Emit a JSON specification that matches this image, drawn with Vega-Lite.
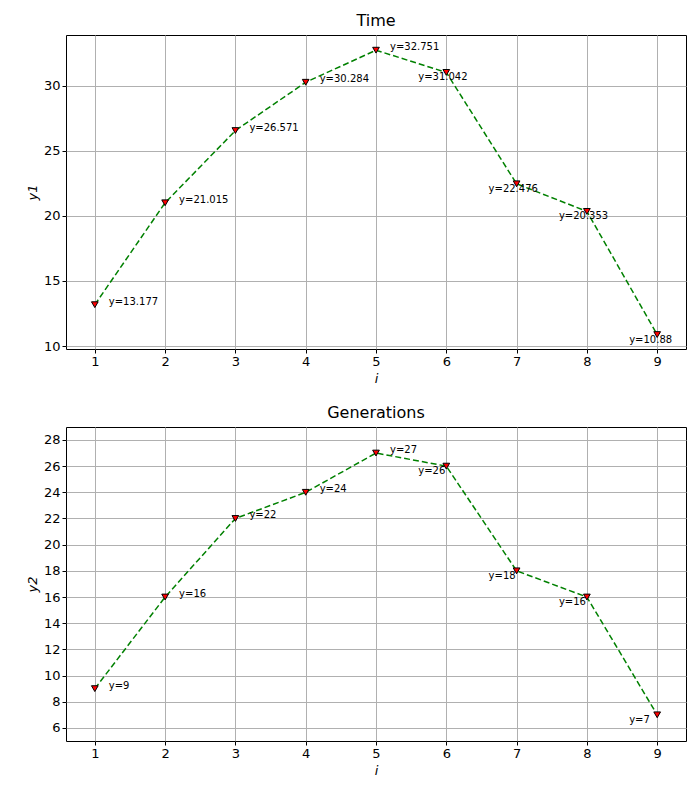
{
  "$schema": "https://vega.github.io/schema/vega-lite/v6.json",
  "padding": {"left": 25, "top": 12, "right": 0, "bottom": 5},
  "spacing": 18,
  "config": {
    "font": "DejaVu Sans",
    "view": {"stroke": "black", "strokeWidth": 1},
    "axis": {"grid": true, "gridColor": "#b0b0b0", "gridWidth": 1, "domain": false, "tickColor": "black", "labelColor": "black", "labelFontSize": 13, "labelFont": "DejaVu Sans", "titleFont": "DejaVu Sans", "titleFontSize": 13, "titleFontWeight": "normal", "titleFontStyle": "italic", "tickSize": 4},
    "title": {"font": "DejaVu Sans", "fontSize": 16, "fontWeight": "normal", "offset": 6}
  },
  "datasets": {
    "d1": [
      {"i": 1, "y": 13.177, "label": "y=13.177"},
      {"i": 2, "y": 21.015, "label": "y=21.015"},
      {"i": 3, "y": 26.571, "label": "y=26.571"},
      {"i": 4, "y": 30.284, "label": "y=30.284"},
      {"i": 5, "y": 32.751, "label": "y=32.751"},
      {"i": 6, "y": 31.042, "label": "y=31.042"},
      {"i": 7, "y": 22.476, "label": "y=22.476"},
      {"i": 8, "y": 20.353, "label": "y=20.353"},
      {"i": 9, "y": 10.88, "label": "y=10.88"}
    ],
    "d2": [
      {"i": 1, "y": 9, "label": "y=9"},
      {"i": 2, "y": 16, "label": "y=16"},
      {"i": 3, "y": 22, "label": "y=22"},
      {"i": 4, "y": 24, "label": "y=24"},
      {"i": 5, "y": 27, "label": "y=27"},
      {"i": 6, "y": 26, "label": "y=26"},
      {"i": 7, "y": 18, "label": "y=18"},
      {"i": 8, "y": 16, "label": "y=16"},
      {"i": 9, "y": 7, "label": "y=7"}
    ]
  },
  "vconcat": [
    {
      "title": "Time",
      "width": 620, "height": 314,
      "data": {"name": "d1"},
      "encoding": {
        "x": {"field": "i", "type": "quantitative", "title": "i", "scale": {"domain": [0.59, 9.41], "nice": false, "zero": false}, "axis": {"values": [1,2,3,4,5,6,7,8,9]}},
        "y": {"field": "y", "type": "quantitative", "title": "y1", "scale": {"domain": [9.77, 33.92], "nice": false, "zero": false}, "axis": {"values": [10,15,20,25,30]}}
      },
      "layer": [
        {"mark": {"type": "line", "color": "green", "strokeDash": [6, 3], "strokeWidth": 1.5}},
        {"mark": {"type": "point", "shape": "triangle-down", "filled": true, "fill": "red", "stroke": "black", "strokeWidth": 1, "size": 45, "opacity": 1}},
        {"transform": [{"filter": "datum.i <= 5"}], "mark": {"type": "text", "align": "left", "dx": 14, "dy": -3, "fontSize": 10, "color": "black"}, "encoding": {"text": {"field": "label"}}},
        {"transform": [{"filter": "datum.i > 5"}], "mark": {"type": "text", "align": "left", "dx": -28, "dy": 5, "fontSize": 10, "color": "black"}, "encoding": {"text": {"field": "label"}}}
      ]
    },
    {
      "title": "Generations",
      "width": 620, "height": 314,
      "data": {"name": "d2"},
      "encoding": {
        "x": {"field": "i", "type": "quantitative", "title": "i", "scale": {"domain": [0.59, 9.41], "nice": false, "zero": false}, "axis": {"values": [1,2,3,4,5,6,7,8,9]}},
        "y": {"field": "y", "type": "quantitative", "title": "y2", "scale": {"domain": [5.0, 28.99], "nice": false, "zero": false}, "axis": {"values": [6,8,10,12,14,16,18,20,22,24,26,28]}}
      },
      "layer": [
        {"mark": {"type": "line", "color": "green", "strokeDash": [6, 3], "strokeWidth": 1.5}},
        {"mark": {"type": "point", "shape": "triangle-down", "filled": true, "fill": "red", "stroke": "black", "strokeWidth": 1, "size": 45, "opacity": 1}},
        {"transform": [{"filter": "datum.i <= 5"}], "mark": {"type": "text", "align": "left", "dx": 14, "dy": -3, "fontSize": 10, "color": "black"}, "encoding": {"text": {"field": "label"}}},
        {"transform": [{"filter": "datum.i > 5"}], "mark": {"type": "text", "align": "left", "dx": -28, "dy": 5, "fontSize": 10, "color": "black"}, "encoding": {"text": {"field": "label"}}}
      ]
    }
  ]
}
